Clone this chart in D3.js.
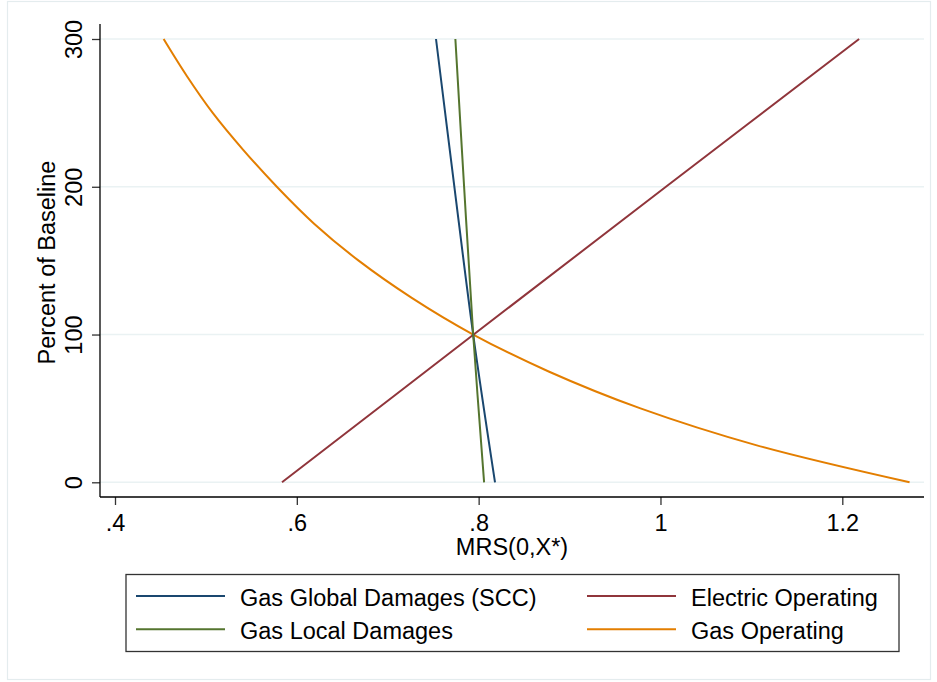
<!DOCTYPE html>
<html>
<head>
<meta charset="utf-8">
<script src="https://cdn.jsdelivr.net/npm/d3@7"></script>
<style>
  html, body { margin: 0; padding: 0; background: #fff; }
  svg { display: block; font-family: "Liberation Sans", Arial, Helvetica, sans-serif; }
</style>
</head>
<body>
<svg id="chart" width="937" height="682"></svg>
<script>
// Percent of baseline levels at which each curve is sampled
const pctLines = [0, 100, 200, 300];
const pctCurve = [0, 25, 50, 75, 100, 125, 150, 175, 200, 225, 250, 275, 300];

// MRS(0,X*) values for each series
const gasGlobal   = [0.818, 0.794, 0.7733, 0.7531];
const gasLocal    = [0.806, 0.794, 0.784, 0.7744];
const elecOper    = [0.5837, 0.7945, 1.006, 1.2185];
const gasOper     = [1.274, 1.106, 0.978, 0.877, 0.794, 0.726, 0.668, 0.619, 0.578, 0.541, 0.5075, 0.479, 0.4535];

const xTicks = [0.4, 0.6, 0.8, 1.0, 1.2];
const xTickLabels = [".4", ".6", ".8", "1", "1.2"];
const yTicks = [0, 100, 200, 300];

const series = [
  { name: "Gas Global Damages (SCC)", color: "#1a476f", pct: pctLines, mrs: gasGlobal },
  { name: "Electric Operating",       color: "#90353b", pct: pctLines, mrs: elecOper },
  { name: "Gas Local Damages",        color: "#55752f", pct: pctLines, mrs: gasLocal },
  { name: "Gas Operating",            color: "#e37e00", pct: pctCurve, mrs: gasOper }
];

const svg = d3.select("#chart");
const FS = 23.5;

// outer frame
svg.append("rect")
  .attr("x", 7.5).attr("y", 1.5).attr("width", 923).attr("height", 678)
  .attr("fill", "none").attr("stroke", "#e4ecee").attr("stroke-width", 1.2);

const plot = { left: 100, right: 924, top: 24, bottom: 497 };

const x = d3.scaleLinear().domain([0.4, 1.2]).range([115, 842.3]);
const y = d3.scaleLinear().domain([0, 300]).range([482.3, 39]);

// gridlines
svg.append("g")
  .selectAll("line")
  .data(yTicks)
  .join("line")
  .attr("x1", plot.left).attr("x2", plot.right)
  .attr("y1", d => y(d)).attr("y2", d => y(d))
  .attr("stroke", "#eaf2f3").attr("stroke-width", 1.6);

// data lines
const lineGen = d3.line()
  .x(d => x(d[0]))
  .y(d => y(d[1]))
  .curve(d3.curveCatmullRom);

const order = [3, 1, 0, 2];
svg.append("g")
  .selectAll("path")
  .data(order.map(i => series[i]))
  .join("path")
  .attr("d", s => lineGen(s.mrs.map((m, i) => [m, s.pct[i]])))
  .attr("fill", "none")
  .attr("stroke", s => s.color)
  .attr("stroke-width", 2);

// x axis
const xAxis = d3.axisBottom(x)
  .tickValues(xTicks)
  .tickFormat((d, i) => xTickLabels[i])
  .tickSize(8)
  .tickPadding(6);
const gx = svg.append("g").attr("transform", `translate(0,${plot.bottom})`).call(xAxis);
gx.select(".domain").remove();
gx.append("line").attr("x1", plot.left).attr("x2", plot.right).attr("y1", 0).attr("y2", 0)
  .attr("stroke", "#000").attr("stroke-width", 1.3);
gx.selectAll(".tick line").attr("stroke", "#333").attr("stroke-width", 1.3);
gx.selectAll(".tick text")
  .attr("font-size", FS).attr("fill", "#000")
  .attr("font-family", "Liberation Sans, Arial, sans-serif")
  .attr("dy", null).attr("y", 34);

// y axis
const yAxis = d3.axisLeft(y).tickValues(yTicks).tickSize(8).tickFormat(d3.format("d"));
const gy = svg.append("g").attr("transform", `translate(${plot.left},0)`).call(yAxis);
gy.select(".domain").remove();
gy.append("line").attr("x1", 0).attr("x2", 0).attr("y1", plot.top).attr("y2", plot.bottom)
  .attr("stroke", "#000").attr("stroke-width", 1.3);
gy.selectAll(".tick line").attr("stroke", "#333").attr("stroke-width", 1.3);
gy.selectAll(".tick text")
  .attr("font-size", FS).attr("fill", "#000")
  .attr("font-family", "Liberation Sans, Arial, sans-serif")
  .attr("x", null).attr("dy", null)
  .attr("text-anchor", "middle")
  .attr("transform", "translate(-18,0) rotate(-90)");

// axis titles
svg.append("text")
  .attr("x", (plot.left + plot.right) / 2).attr("y", 555)
  .attr("text-anchor", "middle").attr("font-size", FS)
  .text("MRS(0,X*)");

svg.append("text")
  .attr("transform", `translate(55,${(plot.top + plot.bottom) / 2 + 2}) rotate(-90)`)
  .attr("text-anchor", "middle").attr("font-size", FS)
  .text("Percent of Baseline");

// legend
const legend = svg.append("g");
legend.append("rect")
  .attr("x", 126).attr("y", 574.5).attr("width", 773).attr("height", 77)
  .attr("fill", "#fff").attr("stroke", "#333").attr("stroke-width", 1.3);

const cols = [{ kx: 136, tx: 240 }, { kx: 587, tx: 691 }];
const rows = [596, 629.3];
series.forEach((s, i) => {
  const c = cols[i % 2], r = rows[Math.floor(i / 2)];
  legend.append("line")
    .attr("x1", c.kx).attr("x2", c.kx + 89)
    .attr("y1", r).attr("y2", r)
    .attr("stroke", s.color).attr("stroke-width", 2);
  legend.append("text")
    .attr("x", c.tx).attr("y", r + 9.5)
    .attr("font-size", FS)
    .text(s.name);
});
</script>
</body>
</html>
